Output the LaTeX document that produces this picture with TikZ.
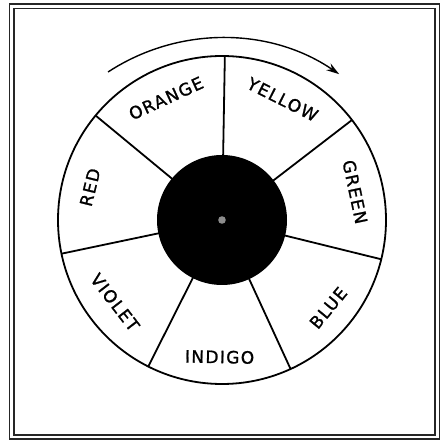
\documentclass[tikz,border=0pt]{standalone}
\usepackage{fontspec}
\newfontfamily\labfont[LetterSpace=8,FakeBold=1.2]{DejaVu Sans}
\usetikzlibrary{arrows.meta}
\begin{document}
\begin{tikzpicture}[x=1pt,y=1pt,
  frameline/.style={line width=1.3pt, draw=black!85},
  wheel/.style={line width=1.8pt},
  colourlabel/.style={font=\labfont\fontsize{17}{17}\selectfont, inner sep=0pt, anchor=center},
  turnarrow/.style={line width=1.4pt, -{Stealth[length=13pt,width=8pt]}}]
\useasboundingbox (-222,-223) rectangle (224,220);
% frame
\draw[frameline] (-212.5,-219) rectangle (217.5,216);
\draw[frameline] (-208,-215) rectangle (213,211.5);
% wheel
\coordinate (c) at (0,0);
\draw[wheel] (c) circle[radius=164];
\foreach \k in {0,...,6}{
  \pgfmathsetmacro{\a}{89-\k*360/7}
  \draw[wheel] (\a:64) -- (\a:164);
}
\fill[black] (c) circle[radius=65];
\fill[black!45] (c) circle[radius=3.8];
% labels
\node[colourlabel, rotate=114.7-90] (orange) at (114.7:134) {ORANGE};
\node[colourlabel, rotate=63.3-90] (yellow) at (63.3:135) {YELLOW};
\node[colourlabel, rotate=11.9-90] (green) at (11.9:136) {GREEN};
\node[colourlabel, rotate=-39.6+90] (blue) at (-39.6:138) {BLUE};
\node[colourlabel, rotate=-91+90] (indigo) at (-91:137) {INDIGO};
\node[colourlabel, rotate=-142.4+90] (violet) at (-142.4:135) {VIOLET};
\node[colourlabel, rotate=166.1-90] (red) at (166.1:136) {RED};
% rotation arrow
\coordinate (ac) at (0,-26);
\draw[turnarrow] ([shift={(123.2:208)}]ac) arc[start angle=123.2, end angle=55.7, radius=208];
\end{tikzpicture}
\end{document}
